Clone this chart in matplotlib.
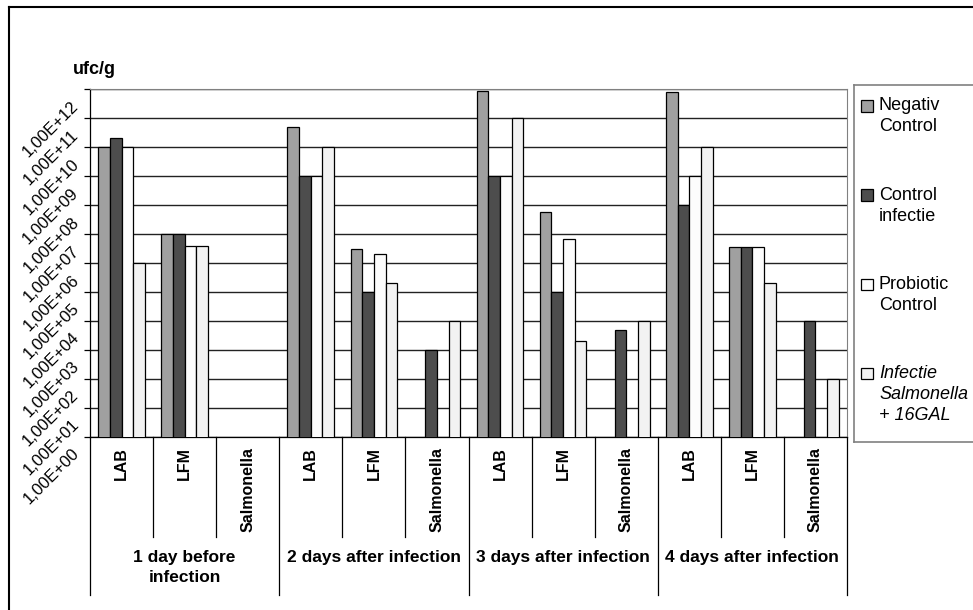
import numpy as np
import matplotlib
matplotlib.use("Agg")
import matplotlib.pyplot as plt
from matplotlib.patches import Rectangle
from matplotlib.lines import Line2D
from matplotlib.ticker import NullLocator
from matplotlib.transforms import offset_copy

plt.rcParams['font.family'] = ['Liberation Sans', 'DejaVu Sans']

# -----------------------
# Data
# -----------------------
groups = ["1 day before\ninfection", "2 days after infection",
          "3 days after infection", "4 days after infection"]
categories = ["LAB", "LFM", "Salmonella"]
series = ["Negativ\nControl", "Control\ninfectie", "Probiotic\nControl",
          "Infectie\nSalmonella\n+ 16GAL"]

nan = np.nan
# one value per (group, category): LAB, LFM, Salmonella x 4 days
negativ_control = [1e10, 1e7, nan, 5e10, 3e6, nan, 8.7e11, 6e7, nan, 8e11, 3.5e6, nan]
control_infectie = [2e10, 1e7, nan, 1e9, 1e5, 1e3, 1e9, 1e5, 5e3, 1e8, 3.5e6, 1e4]
probiotic_control = [1e10, 4e6, nan, 1e9, 2e6, nan, 1e9, 7e6, nan, 1e9, 3.5e6, nan]
infectie_16gal = [1e6, 4e6, nan, 1e10, 2e5, 1e4, 1e11, 2e3, 1e4, 1e10, 2e5, 1e2]

values = [negativ_control, control_infectie, probiotic_control, infectie_16gal]
colors = ["#a0a0a0", "#4d4d4d", "#fcfcfc", "#f2f2f2"]

# -----------------------
# Layout (pixels)
# -----------------------
W, H = 973, 610
fig = plt.figure(figsize=(W / 100, H / 100), dpi=100)


def fx(px):
    return px / W


def fy(py):
    return 1 - py / H


ax_l, ax_r, ax_t, ax_b = 90, 847, 89.3, 436.7
ax_h = ax_b - ax_t
ax = fig.add_axes([fx(ax_l), fy(ax_b), (ax_r - ax_l) / W, ax_h / H])

n_slots = len(groups) * len(categories)
x = np.arange(n_slots) + 0.5
w = 0.185
for j, (vals, c) in enumerate(zip(values, colors)):
    ax.bar(x + (j - 1.5) * w, vals, width=w, color=c,
           edgecolor="black", linewidth=0.9, zorder=3)

ax.set_yscale("log")
ax.set_ylim(1, 1e12)
ax.set_xlim(0, n_slots)
ax.set_yticks([10.0 ** k for k in range(13)])
ax.yaxis.set_minor_locator(NullLocator())
ax.set_xticks([])
ax.yaxis.grid(True, color="#222222", linewidth=1.0)
ax.set_axisbelow(True)
ax.tick_params(axis="y", length=4, width=0.9, labelleft=False)

for s in ["top", "right"]:
    ax.spines[s].set_color("#808080")
for s in ["left", "bottom"]:
    ax.spines[s].set_color("black")
    ax.spines[s].set_linewidth(0.9)

# y tick labels, rotated like the original
ytrans = offset_copy(ax.get_yaxis_transform(), fig=fig, x=-19, y=-9, units="dots")
for k in range(13):
    ax.text(0, 10.0 ** k, f"1,00E+{k:02d}", transform=ytrans, rotation=45,
            rotation_mode="anchor", ha="right", va="top", fontsize=12)

# category axis: separators and labels
xtrans = ax.get_xaxis_transform()
short_end = -(537 - ax_b) / ax_h
long_end = -(595 - ax_b) / ax_h
for k in range(n_slots + 1):
    y_end = long_end if k % 3 == 0 else short_end
    ax.plot([k, k], [0, y_end], transform=xtrans, clip_on=False,
            color="black", linewidth=0.9)

for i in range(n_slots):
    ax.text(x[i], -(447 - ax_b) / ax_h, categories[i % 3], transform=xtrans,
            rotation=90, ha="center", va="top", fontweight="bold", fontsize=11.5)

for g, name in enumerate(groups):
    ax.text(3 * g + 1.5, -(550 - ax_b) / ax_h, name, transform=xtrans,
            ha="center", va="top", fontweight="bold", fontsize=12.5,
            linespacing=1.4)

fig.text(fx(73), fy(70), "ufc/g", ha="left", va="center",
         fontweight="bold", fontsize=13)

# outer chart frame (runs off the right and bottom)
fig.add_artist(Line2D([fx(9), fx(9)], [fy(7), 0], color="black", lw=1.5))
fig.add_artist(Line2D([fx(9), 1], [fy(7), fy(7)], color="black", lw=1.5))

# legend box
lg_l, lg_t, lg_b = 854, 84.5, 442
for xs, ys in [([lg_l, W], [lg_t, lg_t]), ([lg_l, lg_l], [lg_t, lg_b]),
               ([lg_l, W], [lg_b, lg_b])]:
    fig.add_artist(Line2D([fx(v) for v in xs], [fy(v) for v in ys],
                          color="#808080", lw=1.2))

sq = 11.5
for j, (name, c) in enumerate(zip(series, colors)):
    cy = 106 + j * 89.2
    fig.add_artist(Rectangle((fx(861), fy(cy + sq / 2)), sq / W, sq / H,
                             transform=fig.transFigure, facecolor=c,
                             edgecolor="black", lw=0.9))
    fig.text(fx(879), fy(cy - 8.5), name, ha="left", va="top", fontsize=13,
             linespacing=1.3, style="italic" if j == 3 else "normal")

fig.savefig("out.png", dpi=100)
